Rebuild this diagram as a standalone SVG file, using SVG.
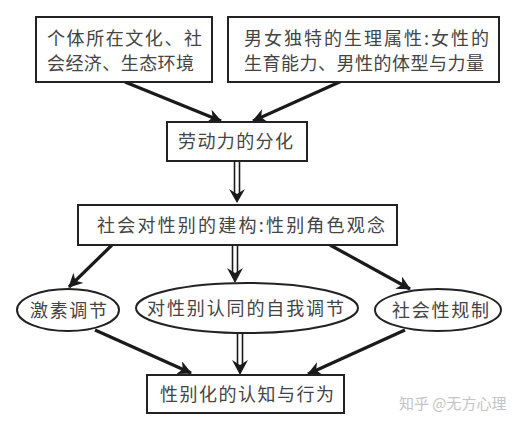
<svg xmlns="http://www.w3.org/2000/svg" width="524" height="426" viewBox="0 0 524 426">
<style>
.box{fill:#fff;stroke:#222;stroke-width:2}
.t{font-family:"Noto Sans CJK SC","Noto Sans",sans-serif;font-size:18px;fill:#444}
.a{stroke:#1a1a1a;stroke-width:3.2;fill:none;marker-end:url(#ah)}
.d{stroke:#1a1a1a;stroke-width:1.6;fill:none}
.h{fill:#1a1a1a}
</style>
<defs>
<marker id="ah" markerUnits="userSpaceOnUse" markerWidth="16" markerHeight="14" refX="13" refY="7" orient="auto">
<path d="M0,0 L14,7 L0,14 L4,7 Z" fill="#1a1a1a"/>
</marker>
</defs>
<rect width="524" height="426" fill="#fff"/>
<g id="connectors">
<line class="a" x1="125" y1="82" x2="221" y2="121"/>
<line class="a" x1="344" y1="80" x2="253" y2="121"/>
<line class="d" x1="234.5" y1="161" x2="234.5" y2="194"/>
<line class="d" x1="239.5" y1="161" x2="239.5" y2="194"/>
<path class="h" d="M229,189 L237,203 L245,189 L237,194 Z"/>
<line class="a" x1="112" y1="245" x2="69" y2="287"/>
<line class="a" x1="330" y1="245" x2="410" y2="289"/>
<line class="d" x1="232.5" y1="245" x2="232.5" y2="273"/>
<line class="d" x1="237.5" y1="245" x2="237.5" y2="273"/>
<path class="h" d="M227,268 L235,283 L243,268 L235,273 Z"/>
<line class="a" x1="95" y1="330" x2="191" y2="373"/>
<line class="a" x1="405" y1="330" x2="308" y2="374"/>
<line class="d" x1="237.5" y1="333" x2="237.5" y2="365"/>
<line class="d" x1="242.5" y1="333" x2="242.5" y2="365"/>
<path class="h" d="M232,360 L240,375 L248,360 L240,365 Z"/>
</g>
<g id="n1">
<rect class="box" x="36" y="17" width="176" height="65"/>
<text class="t" x="47" y="45" textLength="155" lengthAdjust="spacing">个体所在文化、社</text>
<text class="t" x="47" y="70" textLength="147" lengthAdjust="spacing">会经济、生态环境</text>
</g>
<g id="n2">
<rect class="box" x="228" y="17" width="271" height="65"/>
<text class="t" x="244" y="45" textLength="245" lengthAdjust="spacing">男女独特的生理属性:女性的</text>
<text class="t" x="244" y="70" textLength="240" lengthAdjust="spacing">生育能力、男性的体型与力量</text>
</g>
<g id="n3">
<rect class="box" x="167" y="122" width="140" height="39"/>
<text class="t" x="178" y="147.5" textLength="115" lengthAdjust="spacing">劳动力的分化</text>
</g>
<g id="n4">
<rect class="box" x="78" y="205" width="319" height="40"/>
<text class="t" x="97" y="231.5" textLength="288" lengthAdjust="spacing">社会对性别的建构:性别角色观念</text>
</g>
<g id="n5">
<ellipse class="box" cx="68" cy="310" rx="51" ry="21"/>
<text class="t" x="30" y="316.5" textLength="77" lengthAdjust="spacing">激素调节</text>
</g>
<g id="n6">
<ellipse class="box" cx="247" cy="308" rx="111" ry="25"/>
<text class="t" x="147" y="314.5" textLength="197" lengthAdjust="spacing">对性别认同的自我调节</text>
</g>
<g id="n7">
<ellipse class="box" cx="438" cy="310" rx="63" ry="21"/>
<text class="t" x="392" y="316.5" textLength="97" lengthAdjust="spacing">社会性规制</text>
</g>
<g id="n8">
<rect class="box" x="147" y="375" width="197" height="38"/>
<text class="t" x="160" y="400.5" textLength="174" lengthAdjust="spacing">性别化的认知与行为</text>
</g>
<text x="399" y="409" font-family="Noto Sans CJK SC,Noto Sans,sans-serif" font-size="15" fill="#c4c4c4">知乎 @无方心理</text>
</svg>
